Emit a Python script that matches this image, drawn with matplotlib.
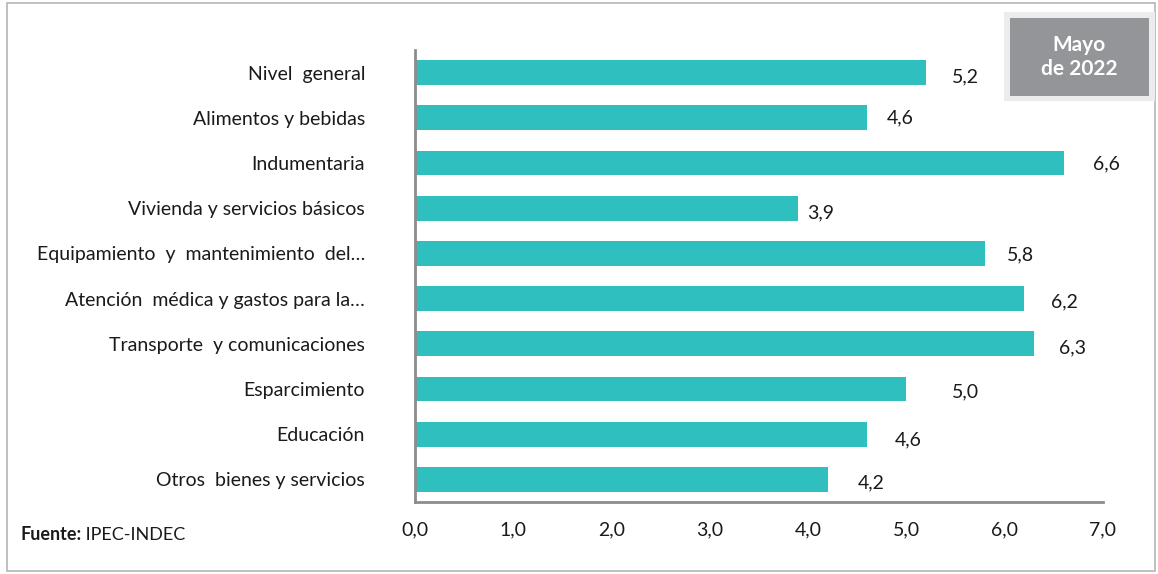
import matplotlib.pyplot as plt
from matplotlib.patches import Rectangle

# ========== datos =============
categorias = ['Nivel  general', 'Alimentos y bebidas', 'Indumentaria',
              'Vivienda y servicios básicos', 'Equipamiento  y  mantenimiento  del…',
              'Atención  médica y gastos para la…', 'Transporte  y comunicaciones',
              'Esparcimiento', 'Educación', 'Otros  bienes y servicios']
valores = [5.2, 4.6, 6.6, 3.9, 5.8, 6.2, 6.3, 5.0, 4.6, 4.2]
ticks = [0, 1, 2, 3, 4, 5, 6, 7]

# offsets of the value labels (data units), manual placement like in Excel
label_dx = [0.26, 0.20, 0.30, 0.09, 0.22, 0.27, 0.25, 0.46, 0.28, 0.31]
label_dy = [0.09, 0.0, 0.02, 0.11, 0.04, 0.07, 0.09, 0.07, 0.13, 0.07]

color_barra = '#2fbfbf'
plt.rcParams['font.family'] = ['Lato', 'DejaVu Sans']

fig = plt.figure(figsize=(11.58, 5.74), dpi=100)
ax = fig.add_axes([0.3584, 0.1254, 0.5941, 0.7875])

y = list(range(len(categorias)))
ax.barh(y, valores, height=0.55, color=color_barra)
for i, v in enumerate(valores):
    ax.text(v + label_dx[i], i + label_dy[i], f'{v:.1f}'.replace('.', ','),
            va='center', ha='left', fontsize=14, color='#1a1a1a')

ax.set_xlim(0, 7)
ax.set_ylim(9.5, -0.5)
ax.set_yticks(y)
ax.set_yticklabels(categorias, fontsize=14, color='#1a1a1a')
ax.set_xticks(ticks)
ax.set_xticklabels([f'{t:.1f}'.replace('.', ',') for t in ticks], fontsize=14, color='#1a1a1a')
ax.tick_params(axis='both', length=0)
ax.tick_params(axis='y', pad=36)
ax.tick_params(axis='x', pad=14)
for s in ['top', 'right']:
    ax.spines[s].set_visible(False)
for s in ['left', 'bottom']:
    ax.spines[s].set_color('#8c8c8c')
    ax.spines[s].set_linewidth(2)

# marco exterior
fig.patches.append(Rectangle((7 / 1158, 3 / 574), 1148 / 1158, 568 / 574,
                             transform=fig.transFigure, fill=False,
                             edgecolor='#b5b5b5', linewidth=1.2))
# recuadro "Mayo de 2022"
fig.patches.append(Rectangle((1004 / 1158, 1 - 101 / 574), 151 / 1158, 89 / 574,
                             transform=fig.transFigure, facecolor='#ececec',
                             edgecolor='none'))
fig.patches.append(Rectangle((1010 / 1158, 1 - 96 / 574), 139 / 1158, 78 / 574,
                             transform=fig.transFigure, facecolor='#939598',
                             edgecolor='none'))
fig.text(1079 / 1158, 1 - 57 / 574, 'Mayo\nde 2022', ha='center', va='center',
         color='white', fontsize=15, fontweight='bold', linespacing=1.2)

# fuente
t = fig.text(20 / 1158, 1 - 535 / 574, 'Fuente:', ha='left', va='center',
             fontsize=13, fontweight='bold', color='#1a1a1a')
ax.annotate(' IPEC-INDEC', xy=(1, 0.5), xycoords=t, ha='left', va='center',
            fontsize=13, color='#1a1a1a')

fig.savefig('out.png', dpi=100)
